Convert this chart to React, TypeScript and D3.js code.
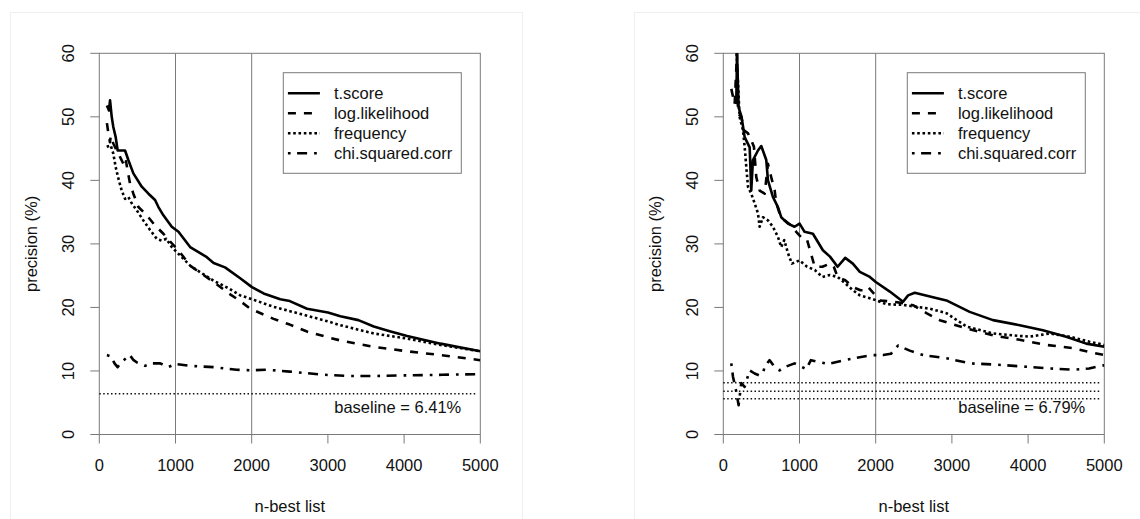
import React from "react";
import * as d3 from "d3";

// [n, precision %]
const leftTScore = [
  [100, 51.8], [127, 51], [141, 52.6], [163, 50], [184, 48.4], [215, 46.8], [241, 44.7],
  [294, 44.7], [338, 44.7], [381, 43.2], [447, 41.1], [478, 40.5], [557, 39], [645, 37.9],
  [732, 36.9], [776, 35.8], [841, 34.5], [951, 32.7], [1039, 31.9], [1192, 29.5], [1400, 28],
  [1500, 27], [1650, 26.3], [1849, 24.6], [2003, 23.2], [2156, 22.2], [2375, 21.3], [2500, 21],
  [2726, 19.8], [3000, 19.2], [3164, 18.6], [3400, 18], [3602, 17], [3800, 16.3], [4040, 15.5],
  [4478, 14.3], [5000, 13.1],
];
const leftLogLik = [
  [100, 49], [119, 47.4], [140, 46], [150, 47], [184, 45.8], [228, 44.7], [280, 43.5],
  [320, 42.5], [338, 42.1], [350, 43], [403, 39.5], [447, 37.9], [513, 35.8], [623, 34.5],
  [732, 32.9], [841, 31.6], [951, 30.1], [1050, 28.8], [1200, 26.5], [1500, 24], [1700, 22.2],
  [1850, 21], [1981, 19.8], [2287, 18.2], [2500, 17.3], [2726, 16.2], [3000, 15.3],
  [3164, 14.8], [3602, 13.8], [4040, 13.1], [4478, 12.5], [5000, 11.7],
];
const leftFreq = [
  [97, 45.3], [150, 45.5], [184, 44.2], [215, 42.1], [250, 40.3], [294, 38.4], [338, 37.1],
  [381, 37.4], [425, 36.4], [491, 35.3], [578, 33.7], [666, 32.2], [754, 30.8], [820, 30.5],
  [880, 30.8], [951, 29.5], [1050, 28.3], [1200, 26.5], [1500, 24.2], [1700, 23],
  [1849, 21.9], [2003, 21.3], [2287, 20.1], [2726, 18.7], [3000, 17.8], [3164, 17.2],
  [3602, 15.9], [4040, 15.1], [4478, 14.1], [5000, 13.1],
];
const leftChi = [
  [100, 12.5], [150, 12.3], [200, 11.2], [240, 10.6], [290, 11.4], [350, 12], [400, 12.5],
  [450, 11.7], [500, 11.3], [600, 10.8], [700, 11.2], [800, 11.2], [900, 10.6], [1000, 11.1],
  [1200, 10.8], [1500, 10.6], [1800, 10.2], [2000, 10.1], [2200, 10.2], [2500, 9.9],
  [2950, 9.4], [3300, 9.2], [3600, 9.2], [4000, 9.3], [4500, 9.4], [5000, 9.5],
];

const rightTScore = [
  [170, 52], [180, 60], [201, 51.5], [240, 50], [280, 46.8], [346, 45.2], [367, 38.4],
  [389, 43.2], [455, 44.7], [498, 45.4], [564, 43.2], [586, 40], [651, 37.4], [717, 35.8],
  [760, 34.2], [848, 33.2], [935, 32.7], [1001, 33.2], [1067, 31.9], [1176, 31.6],
  [1307, 29], [1400, 28], [1500, 26.4], [1600, 27.8], [1700, 26.9], [1792, 25.6],
  [1923, 24.8], [2001, 24], [2185, 22.5], [2359, 20.9], [2425, 21.9], [2512, 22.3],
  [2752, 21.6], [2928, 21.1], [3233, 19.3], [3539, 18], [3889, 17.2], [4194, 16.4],
  [4500, 15.4], [4763, 14.3], [5000, 13.8],
];
const rightLogLik = [
  [105, 54.4], [149, 52], [180, 60], [193, 50.5], [236, 50], [271, 47.9], [324, 47.4],
  [367, 46.3], [402, 45.3], [433, 40.5], [477, 38.4], [543, 37.9], [586, 42.6], [629, 40.5],
  [674, 38.4], [695, 36.4], [739, 34.8], [805, 33.7], [892, 32.9], [957, 31.9], [1058, 30.6],
  [1100, 30.6], [1150, 28.5], [1200, 26.4], [1300, 26.4], [1400, 26.9], [1450, 26.4],
  [1500, 24.8], [1600, 24.3], [1700, 23.2], [1800, 22.7], [1857, 22.7], [1900, 23.2],
  [2054, 21.1], [2228, 20.9], [2404, 20.6], [2500, 20.3], [2666, 19.1], [2840, 18],
  [3000, 17.4], [3190, 16.7], [3539, 15.6], [3889, 14.9], [4238, 14.1], [4587, 13.6],
  [4800, 13], [5000, 12.5],
];
const rightFreq = [
  [175, 60], [214, 50], [258, 47.9], [280, 45.3], [302, 42.1], [324, 39], [367, 37.9],
  [411, 36.4], [455, 34.8], [477, 32.7], [520, 34.2], [586, 33.7], [651, 32.7], [717, 31.1],
  [760, 29.5], [800, 30.6], [850, 28.5], [900, 26.9], [1000, 27.4], [1100, 26.4],
  [1200, 25.9], [1300, 24.8], [1400, 25.1], [1500, 24.8], [1600, 23.8], [1700, 22.7],
  [1792, 21.9], [1966, 21.3], [2141, 20.5], [2359, 20.4], [2535, 20.1], [2709, 19.8],
  [2928, 19.1], [3190, 17], [3539, 15.9], [3801, 15.6], [4020, 15.4], [4282, 15.9],
  [4544, 15.4], [4806, 14.6], [5000, 14.1],
];
const rightChi = [
  [105, 11.2], [127, 9.1], [171, 6.7], [201, 4.6], [236, 8.1], [280, 7.5], [346, 10.1],
  [411, 9.6], [470, 9.3], [520, 9.6], [543, 10.7], [608, 11.7], [680, 10.5], [739, 10.1],
  [826, 10.7], [935, 11.2], [1001, 10.8], [1088, 10.3], [1150, 11.7], [1372, 11.1],
  [1591, 11.7], [1809, 12.2], [1940, 12.5], [2097, 12.5], [2200, 12.7], [2293, 14],
  [2447, 13.2], [2621, 12.5], [2928, 12], [3233, 11.2], [3583, 11], [3932, 10.7],
  [4282, 10.4], [4600, 10.2], [4800, 10.4], [5000, 10.9],
];

const seriesNames = ["t.score", "log.likelihood", "frequency", "chi.squared.corr"];
const xTicks = [0, 1000, 2000, 3000, 4000, 5000];
const yTicks = [0, 10, 20, 30, 40, 50, 60];
const gridAt = [1000, 2000];
const leftBaselines = [6.41];
const rightBaselines = [8.14, 6.79, 5.63];

const dashes = ["none", "8,8", "2.6,2.7", "2.7,6.5,10,7"];
const font = "'Liberation Sans', Arial, Helvetica, sans-serif";
const fs = 16.5;
const axisGray = "#7a7a7a";

const Panel = ({ id, left, series, baselines, baselineLabel }) => {
  const x = d3.scaleLinear().domain([0, 5000]).range([left, left + 381]);
  const y = d3.scaleLinear().domain([0, 60]).range([434.5, 53.3]);
  const line = d3
    .line()
    .x((d) => x(d[0]))
    .y((d) => y(d[1]));
  const [x0, x1] = x.range();
  const [y0, y1] = y.range();
  const legX = x1 - 197;
  const legY = 72.7;

  return (
    <g>
      <defs>
        <clipPath id={id}>
          <rect x={x0} y={y1} width={x1 - x0} height={y0 - y1} />
        </clipPath>
      </defs>
      {/* grid + box */}
      {gridAt.map((g) => (
        <line key={g} x1={x(g)} x2={x(g)} y1={y1} y2={y0} stroke={axisGray} strokeWidth={1} />
      ))}
      <rect x={x0} y={y1} width={x1 - x0} height={y0 - y1} fill="none" stroke={axisGray} strokeWidth={1} />
      {xTicks.map((t) => (
        <g key={t}>
          <line x1={x(t)} x2={x(t)} y1={y0} y2={y0 + 9} stroke={axisGray} />
          <text x={x(t)} y={471} textAnchor="middle" fontSize={fs} fontFamily={font} fill="#111">
            {t}
          </text>
        </g>
      ))}
      {yTicks.map((t) => (
        <g key={t}>
          <line x1={x0 - 9} x2={x0} y1={y(t)} y2={y(t)} stroke={axisGray} />
          <text
            transform={`translate(${x0 - 31},${y(t)}) rotate(-90)`}
            textAnchor="middle"
            dominantBaseline="central"
            fontSize={fs}
            fontFamily={font}
            fill="#111"
          >
            {t}
          </text>
        </g>
      ))}
      <text
        transform={`translate(${x0 - 68},${(y0 + y1) / 2}) rotate(-90)`}
        textAnchor="middle"
        dominantBaseline="central"
        fontSize={fs}
        fontFamily={font}
        fill="#111"
      >
        precision (%)
      </text>
      <text x={(x0 + x1) / 2} y={512} textAnchor="middle" fontSize={fs} fontFamily={font} fill="#111">
        n-best list
      </text>

      {/* baseline(s) */}
      {baselines.map((b) => (
        <line key={b} x1={x0} x2={x1 - 3} y1={y(b)} y2={y(b)} stroke="#111" strokeWidth={1.5} strokeDasharray="1.5,2.4" />
      ))}
      <text x={legX + 178} y={407} textAnchor="end" dominantBaseline="central" fontSize={fs} fontFamily={font} fill="#111">
        {baselineLabel}
      </text>

      {/* curves */}
      <g clipPath={`url(#${id})`}>
        {series.map((s, i) => (
          <path
            key={i}
            d={line(s)}
            fill="none"
            stroke="#000"
            strokeWidth={2.6}
            strokeDasharray={dashes[i]}
            strokeLinejoin="round"
          />
        ))}
      </g>

      {/* legend */}
      <rect x={legX} y={legY} width={178} height={100.6} fill="#fff" stroke={axisGray} strokeWidth={1} />
      {seriesNames.map((name, i) => (
        <g key={name}>
          <line
            x1={legX + 4.6}
            x2={legX + 36.6}
            y1={legY + 20.6 + i * 20}
            y2={legY + 20.6 + i * 20}
            stroke="#000"
            strokeWidth={2.6}
            strokeDasharray={dashes[i]}
          />
          <text
            x={legX + 50.6}
            y={legY + 20.6 + i * 20}
            dominantBaseline="central"
            fontSize={fs}
            fontFamily={font}
            fill="#111"
          >
            {name}
          </text>
        </g>
      ))}
    </g>
  );
};

export default function App() {
  return (
    <svg
      width={1140}
      height={519}
      style={{ position: "absolute", left: 0, top: 0, background: "#fff" }}
    >
      <rect x={10.5} y={12.5} width={512} height={520} fill="none" stroke="#efefef" />
      <rect x={634.5} y={12.5} width={520} height={520} fill="none" stroke="#efefef" />
      <Panel
        id="clipL"
        left={99.3}
        series={[leftTScore, leftLogLik, leftFreq, leftChi]}
        baselines={leftBaselines}
        baselineLabel="baseline = 6.41%"
      />
      <Panel
        id="clipR"
        left={723.3}
        series={[rightTScore, rightLogLik, rightFreq, rightChi]}
        baselines={rightBaselines}
        baselineLabel="baseline = 6.79%"
      />
    </svg>
  );
}
